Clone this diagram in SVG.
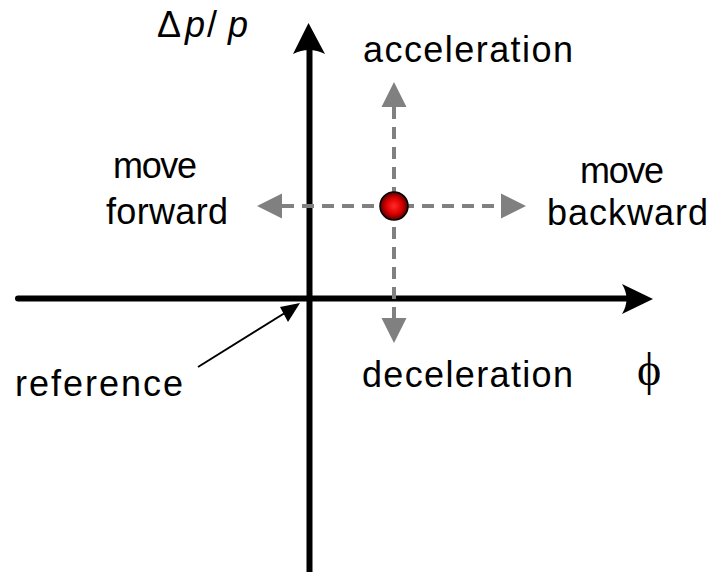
<svg xmlns="http://www.w3.org/2000/svg" width="713" height="572" viewBox="0 0 713 572">
<defs>
<style>
.lbl{font-family:"Liberation Sans",Arial,sans-serif;font-size:36px;fill:#000}
.axis{stroke:#000;stroke-width:6;fill:none}
.dash{stroke:#808080;stroke-width:4;stroke-dasharray:12 8;fill:none}
.gh{fill:#808080}
</style>
<radialGradient id="ball" cx="0.5" cy="0.5" r="0.5">
<stop offset="0" stop-color="#ff2a2a"/>
<stop offset="0.55" stop-color="#e00000"/>
<stop offset="1" stop-color="#5a0000"/>
</radialGradient>
</defs>
<rect width="713" height="572" fill="#fff"/>
<g id="axes">
<line class="axis" x1="309.5" y1="572" x2="309.5" y2="45"/>
<path d="M308.5,23 L325,54 Q309,46 293,54 Z" fill="#000"/>
<line class="axis" x1="18" y1="298.5" x2="632" y2="298.5" stroke-linecap="round"/>
<path d="M653,299 L622,284 Q631,299 622,314 Z" fill="#000"/>
</g>
<g id="connectors">
<line class="dash" x1="282" y1="206" x2="501" y2="206"/>
<line class="dash" x1="394" y1="107" x2="394" y2="318"/>
<path class="gh" d="M257,206 L282,193.5 L282,218.5 Z"/>
<path class="gh" d="M526,206 L501,193.5 L501,218.5 Z"/>
<path class="gh" d="M394,82 L381.5,107 L406.5,107 Z"/>
<path class="gh" d="M394,343 L381.5,318 L406.5,318 Z"/>
<line x1="198" y1="367" x2="288" y2="311" stroke="#000" stroke-width="2"/>
<path d="M300,303 L280,307 L288,322 Z" fill="#000"/>
</g>
<g id="point">
<circle cx="394" cy="206" r="14" fill="url(#ball)" stroke="#000" stroke-width="1.5"/>
</g>
<g id="labels">
<text class="lbl" y="37" font-size="34"><tspan x="157">Δ</tspan><tspan x="185" font-style="italic">p</tspan><tspan x="207">/</tspan><tspan x="228" font-style="italic">p</tspan></text>
<text class="lbl" x="363" y="62" textLength="210" lengthAdjust="spacing">acceleration</text>
<text class="lbl" x="113" y="178" textLength="84" lengthAdjust="spacing">move</text>
<text class="lbl" x="106" y="224" textLength="122" lengthAdjust="spacing">forward</text>
<text class="lbl" x="580" y="183" textLength="84" lengthAdjust="spacing">move</text>
<text class="lbl" x="547" y="225" textLength="161" lengthAdjust="spacing">backward</text>
<text class="lbl" x="362" y="387" textLength="211" lengthAdjust="spacing">deceleration</text>
<text class="lbl" x="15" y="396" textLength="168" lengthAdjust="spacing">reference</text>
<text x="637" y="385" font-family="'Liberation Serif','Times New Roman',serif" font-size="46" fill="#000">ϕ</text>
</g>
</svg>
